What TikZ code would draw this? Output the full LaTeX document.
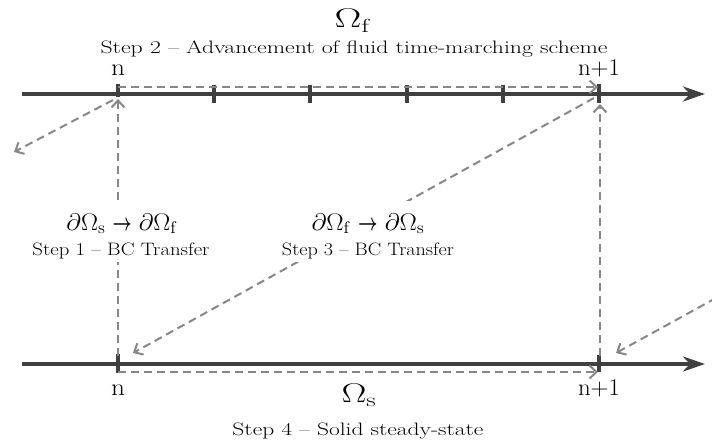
\RequirePackage{fix-cm}
\documentclass[tikz,border=0pt]{standalone}
\usepackage{graphicx}
\usepackage{amsmath,amssymb,bm}
\usetikzlibrary{arrows.meta}
\definecolor{axisgray}{RGB}{64,64,64}
\definecolor{dashgray}{RGB}{135,135,135}
\newcommand{\wtxt}[2]{\resizebox{#1}{\height}{#2}}
\newcommand{\barrow}{\mathrel{\scalebox{0.65}[1]{$\boldsymbol{\rightarrow}$}}}
\begin{document}
\begin{tikzpicture}[x=1pt,y=-1pt,
  axisline/.style={line width=4.5pt, draw=axisgray, -{Stealth[length=22pt,width=15pt,inset=7pt]}},
  tickmark/.style={line width=4pt, draw=axisgray},
  flow/.style={line width=2pt, draw=dashgray, dash pattern=on 8pt off 5pt, -{Straight Barb[length=7pt,width=13pt,line width=2pt]}},
  lbl/.style={inner sep=0pt, anchor=base},
  bigfont/.style={font=\fontsize{27}{32}\selectfont},
  midfont/.style={font=\fontsize{24}{28}\selectfont},
  stepfont/.style={font=\fontsize{18}{21}\selectfont},
  whitebox/.style={fill=white, inner xsep=2pt, anchor=base},
]
\useasboundingbox (0,0) rectangle (712,441);

% axes
\coordinate (fstart) at (22,94);
\coordinate (fend) at (705,94);
\coordinate (sstart) at (22,364);
\coordinate (send) at (705,364);
\draw[axisline] (fstart) -- (fend);
\draw[axisline] (sstart) -- (send);

% ticks
\foreach \x in {214,310,407,503} {\draw[tickmark] (\x,85) -- (\x,103);}
\draw[tickmark] (118,84) -- (118,97);
\draw[tickmark] (599,84) -- (599,103);
\draw[tickmark] (118,354) -- (118,373);
\draw[tickmark] (599,355) -- (599,372);

% connector end points
\coordinate (ftn) at (118,87);
\coordinate (ftn1) at (598,87);
\coordinate (sbn) at (118,372);
\coordinate (sbn1) at (598,372);
\coordinate (vnb) at (118,356);
\coordinate (vnt) at (118,99);
\coordinate (vn1b) at (600,356);
\coordinate (vn1t) at (600,104);
\coordinate (dmt) at (594,98);
\coordinate (dmb) at (133,353);
\coordinate (dlt) at (113,100);
\coordinate (dlb) at (14,152);
\coordinate (drt) at (716,298);
\coordinate (drb) at (616,353);

% dashed connectors
\draw[flow] (ftn) -- (ftn1);
\draw[flow] (sbn) -- (sbn1);
\draw[flow] (vnb) -- (vnt);
\draw[flow] (vn1b) -- (vn1t);
\draw[flow] (dmt) -- (dmb);
\draw[flow] (dlt) -- (dlb);
\draw[flow] (drt) -- (drb);

% labels
\node[lbl, bigfont] (omf) at (353,28) {\wtxt{37pt}{$\Omega_{\mathrm{f}}$}};
\node[lbl, stepfont] (st2) at (354,54) {\wtxt{507pt}{Step 2 -- Advancement of fluid time-marching scheme}};
\node[lbl, midfont] (nt) at (118,76) {\wtxt{14pt}{n}};
\node[lbl, midfont] (n1t) at (599,76) {\wtxt{42pt}{n+1}};

\node[whitebox, midfont, inner ysep=12pt] (bc1) at (122,230) {\wtxt{111pt}{$\partial\Omega_{\mathrm{s}}\barrow\partial\Omega_{\mathrm{f}}$}};
\node[whitebox, stepfont, inner ysep=3pt] (st1) at (121,255) {\wtxt{177pt}{Step 1 -- BC Transfer}};
\node[whitebox, midfont, inner ysep=12pt] (bc3) at (368,230) {\wtxt{113pt}{$\partial\Omega_{\mathrm{f}}\barrow\partial\Omega_{\mathrm{s}}$}};
\node[whitebox, stepfont, inner ysep=3pt] (st3) at (368,255) {\wtxt{172pt}{Step 3 -- BC Transfer}};

\node[lbl, midfont] (nb) at (118,395) {\wtxt{14pt}{n}};
\node[lbl, midfont] (n1b) at (599,395) {\wtxt{42pt}{n+1}};
\node[lbl, bigfont] (oms) at (359,402) {\wtxt{35pt}{$\Omega_{\mathrm{s}}$}};
\node[lbl, stepfont] (st4) at (358,435) {\wtxt{251pt}{Step 4 -- Solid steady-state}};
\end{tikzpicture}
\end{document}
